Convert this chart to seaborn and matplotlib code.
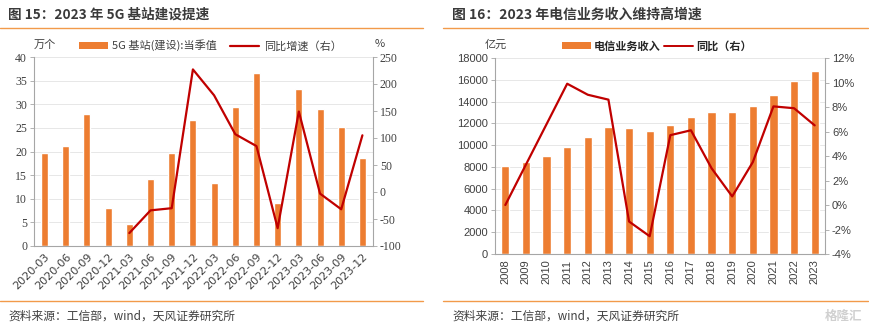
import numpy as np
import pandas as pd
import matplotlib
matplotlib.use("Agg")
import matplotlib.pyplot as plt
import seaborn as sns
from matplotlib.patches import Patch
from matplotlib.lines import Line2D

sns.set_theme(style="white")
plt.rcParams['font.family'] = ['Noto Sans CJK SC', 'DejaVu Sans']
plt.rcParams['axes.unicode_minus'] = False

# ---- data: chart 15 ----
q_labels = ["2020-03", "2020-06", "2020-09", "2020-12", "2021-03", "2021-06", "2021-09", "2021-12",
            "2022-03", "2022-06", "2022-09", "2022-12", "2023-03", "2023-06", "2023-09", "2023-12"]
bs_built = [19.7, 21.1, 28.0, 8.0, 4.7, 14.1, 19.7, 26.6, 13.3, 29.4, 36.6, 9.1, 33.3, 29.0, 25.2, 18.7]
bs_yoy = [np.nan, np.nan, np.nan, np.nan, -76, -34, -30, 227, 179, 107, 85, -67, 149, -3, -32, 105]

# ---- data: chart 16 ----
years = ["2008", "2009", "2010", "2011", "2012", "2013", "2014", "2015",
         "2016", "2017", "2018", "2019", "2020", "2021", "2022", "2023"]
telecom_rev = [8110, 8420, 9000, 9860, 10750, 11670, 11550, 11300,
               11860, 12590, 13050, 13080, 13550, 14620, 15850, 16830]
telecom_yoy = [0.0, 3.3, 6.6, 9.9, 9.0, 8.6, -1.35, -2.55, 5.7, 6.1, 3.0, 0.7, 3.5, 8.05, 7.9, 6.5]

ORANGE = "#ED7D31"
RED = "#C00000"
GRID = "#E3E3E3"
SPINE = "#A6A6A6"
TXT = "#404040"
ACC = "#F29A4A"

W, H = 870, 331
fig = plt.figure(figsize=(W / 100, H / 100), dpi=100)


def fx(px):
    return px / W


def fy(py):
    return 1 - py / H


def style_axes(ax, ax2):
    for a in (ax, ax2):
        for s in a.spines.values():
            s.set_visible(False)
    ax.spines['left'].set_visible(True)
    ax.spines['bottom'].set_visible(True)
    ax2.spines['right'].set_visible(True)
    for s in (ax.spines['left'], ax.spines['bottom'], ax2.spines['right']):
        s.set_color(SPINE)
        s.set_linewidth(0.8)
    ax.yaxis.grid(True, color=GRID, linewidth=0.6)
    ax.set_axisbelow(True)
    ax.tick_params(axis='y', colors=SPINE, labelcolor=TXT, length=3, width=0.6, direction='out', pad=2)
    ax2.tick_params(axis='y', colors=SPINE, labelcolor=TXT, length=3, width=0.6, direction='out', pad=2)


# ================= chart 15 =================
ax = fig.add_axes([fx(34), fy(246), fx(373 - 34), (246 - 57) / H])
df1 = pd.DataFrame({"q": q_labels, "v": bs_built})
sns.barplot(data=df1, x="q", y="v", color=ORANGE, width=0.33, saturation=1, ax=ax)
ax2 = ax.twinx()
idx = np.arange(len(q_labels))
sns.lineplot(x=idx, y=bs_yoy, color=RED, linewidth=1.6, ax=ax2)
ax.set_xlim(-0.5, len(q_labels) - 0.5)
ax.set_ylim(0, 40)
ax.set_yticks(np.arange(0, 41, 5))
ax2.set_ylim(-100, 250)
ax2.set_yticks(np.arange(-100, 251, 50))
ax.set_xlabel("")
ax.set_ylabel("")
ax2.set_ylabel("")
style_axes(ax, ax2)
ax.set_xticks(np.arange(-0.5, len(q_labels), 1.0))
ax.set_xticklabels([])
ax.set_xticks(idx, minor=True)
ax.set_xticklabels(q_labels, minor=True, rotation=45, ha='right', rotation_mode='anchor',
                   fontsize=8, color=TXT, family=['DejaVu Sans'])
ax.tick_params(axis='x', which='major', length=3, colors=SPINE, width=0.6)
ax.tick_params(axis='x', which='minor', length=0, pad=4)
for t in ax.get_yticklabels() + ax2.get_yticklabels():
    t.set_fontsize(8.5)
    t.set_family(['Liberation Serif'])

ax.text(-0.0, 1.04, "万个", transform=ax.transAxes, fontsize=8, color=TXT, ha='left', va='bottom')
ax2.text(1.02, 1.04, "%", transform=ax2.transAxes, fontsize=8, color=TXT, ha='center', va='bottom')
h1 = [Patch(facecolor=ORANGE, edgecolor='none'), Line2D([0], [0], color=RED, lw=1.6)]
ax.legend(h1, ["5G 基站(建设):当季值", "同比增速（右）"], loc='lower center',
          bbox_to_anchor=(0.52, 1.0), ncol=2, frameon=False, fontsize=8, handlelength=2.6,
          handleheight=0.5, columnspacing=1.2, handletextpad=0.4, borderaxespad=0.1,
          labelcolor=TXT)

# ================= chart 16 =================
bx = fig.add_axes([fx(495), fy(254), fx(825 - 495), (254 - 58) / H])
df2 = pd.DataFrame({"y": years, "v": telecom_rev})
sns.barplot(data=df2, x="y", y="v", color=ORANGE, width=0.4, saturation=1, ax=bx)
bx2 = bx.twinx()
idx2 = np.arange(len(years))
sns.lineplot(x=idx2, y=telecom_yoy, color=RED, linewidth=1.6, ax=bx2)
bx.set_xlim(-0.5, len(years) - 0.5)
bx.set_ylim(0, 18000)
bx.set_yticks(np.arange(0, 18001, 2000))
bx2.set_ylim(-4, 12)
bx2.set_yticks(np.arange(-4, 13, 2))
bx2.set_yticklabels([f"{v}%" for v in range(-4, 13, 2)])
bx.set_xlabel("")
bx.set_ylabel("")
bx2.set_ylabel("")
style_axes(bx, bx2)
bx.set_xticks(np.arange(-0.5, len(years), 1.0))
bx.set_xticklabels([])
bx.set_xticks(idx2, minor=True)
bx.set_xticklabels(years, minor=True, rotation=90, ha='center', va='top',
                   fontsize=8, color=TXT, family=['Liberation Sans'])
bx.tick_params(axis='x', which='major', length=3, colors=SPINE, width=0.6)
bx.tick_params(axis='x', which='minor', length=0, pad=4)
for t in bx.get_yticklabels() + bx2.get_yticklabels():
    t.set_fontsize(8)
    t.set_family(['Liberation Sans'])

bx.text(-0.03, 1.04, "亿元", transform=bx.transAxes, fontsize=8, color=TXT, ha='left', va='bottom')
h2 = [Patch(facecolor=ORANGE, edgecolor='none'), Line2D([0], [0], color=RED, lw=1.4)]
leg2 = bx.legend(h2, ["电信业务收入", "同比（右）"], loc='lower center',
                 bbox_to_anchor=(0.49, 1.0), ncol=2, frameon=False, fontsize=8, handlelength=2.6,
                 handleheight=0.5, columnspacing=0.3, handletextpad=0.3, borderaxespad=0.1,
                 labelcolor="#262626")
for t in leg2.get_texts():
    t.set_fontweight('bold')

# ================= titles, rules, sources =================
fig.text(fx(8), fy(15), "图 15：2023 年 5G 基站建设提速", fontsize=9.8, fontweight='bold',
         color="#3A3A3A", ha='left', va='center')
fig.text(fx(452), fy(15), "图 16：2023 年电信业务收入维持高增速", fontsize=10, fontweight='bold',
         color="#3A3A3A", ha='left', va='center')
fig.add_artist(Line2D([fx(0), fx(423)], [fy(28), fy(28)], color=ACC, lw=1.0))
fig.add_artist(Line2D([fx(443), fx(868)], [fy(28), fy(28)], color=ACC, lw=1.0))
fig.add_artist(Line2D([fx(0), fx(423)], [fy(301), fy(301)], color=ACC, lw=1.0))
fig.add_artist(Line2D([fx(443), fx(868)], [fy(301), fy(301)], color=ACC, lw=1.0))
fig.text(fx(8), fy(316), "资料来源：工信部，wind，天风证券研究所", fontsize=8.5, color=TXT,
         ha='left', va='center')
fig.text(fx(452), fy(316), "资料来源：工信部，wind，天风证券研究所", fontsize=8.5, color=TXT,
         ha='left', va='center')
fig.text(fx(862), fy(316), "格隆汇", fontsize=9, color="#D0D0D0", ha='right', va='center',
         fontweight='bold')

fig.savefig("out.png", dpi=100)
